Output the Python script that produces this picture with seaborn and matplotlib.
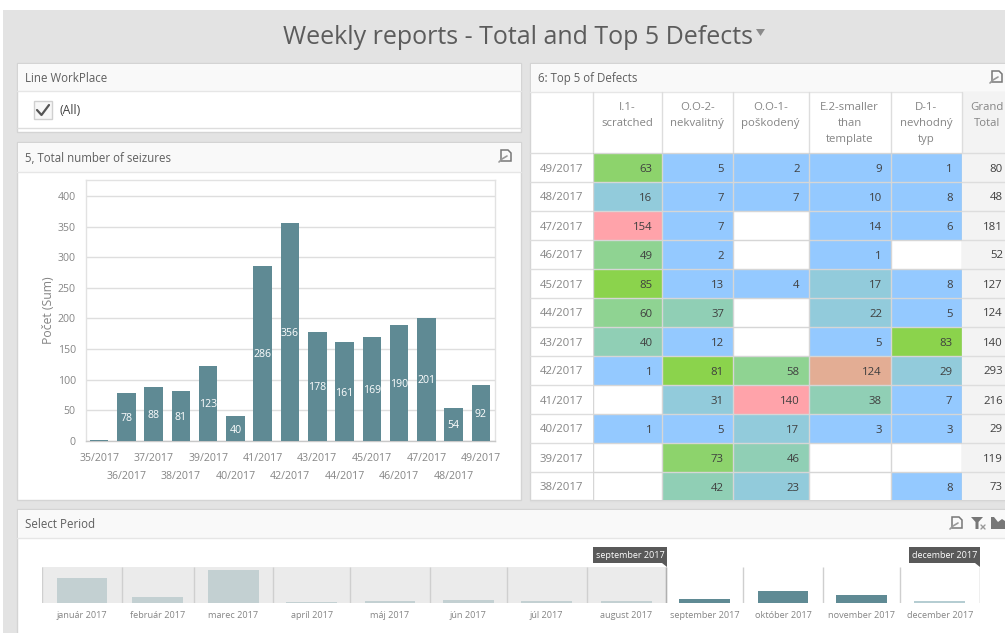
import numpy as np
import pandas as pd
import seaborn as sns
import matplotlib
matplotlib.use("Agg")
import matplotlib.pyplot as plt
from matplotlib.colors import ListedColormap, BoundaryNorm
from matplotlib.patches import Rectangle, Polygon

# ---------- data ----------
weeks = ["35/2017", "36/2017", "37/2017", "38/2017", "39/2017", "40/2017", "41/2017", "42/2017",
         "43/2017", "44/2017", "45/2017", "46/2017", "47/2017", "48/2017", "49/2017"]
seizures = [2, 78, 88, 81, 123, 40, 286, 356, 178, 161, 169, 190, 201, 54, 92]
seizure_labels = ["", "78", "88", "81", "123", "40", "286", "356", "178", "161", "169", "190", "201", "54", "92"]

table_weeks = ["49/2017", "48/2017", "47/2017", "46/2017", "45/2017", "44/2017",
               "43/2017", "42/2017", "41/2017", "40/2017", "39/2017", "38/2017"]
nan = np.nan
scratched = [63, 16, 154, 49, 85, 60, 40, 1, nan, 1, nan, nan]
nekvalitny = [5, 7, 7, 2, 13, 37, 12, 81, 31, 5, 73, 42]
poskodeny = [2, 7, nan, nan, 4, nan, nan, 58, 140, 17, 46, 23]
smaller = [9, 10, 14, 1, 17, 22, 5, 124, 38, 3, nan, nan]
nevhodny = [1, 8, 6, nan, 8, 5, 83, 29, 7, 3, nan, 8]
grand_total = [80, 48, 181, 52, 127, 124, 140, 293, 216, 29, 119, 73]
defect_headers = ["I.1-\nscratched", "O.O-2-\nnekvalitný", "O.O-1-\npoškodený",
                  "E.2-smaller\nthan\ntemplate", "D-1-\nnevhodný\ntyp"]

months = ["január 2017", "február 2017", "marec 2017", "apríl 2017", "máj 2017", "jún 2017",
          "júl 2017", "august 2017", "september 2017", "október 2017", "november 2017", "december 2017"]
month_days = [31, 28, 31, 30, 31, 30, 31, 31, 30, 31, 30, 31]
month_totals = [2000, 480, 2640, 100, 160, 260, 190, 180, 350, 980, 640, 130]
month_selected = ["no"] * 8 + ["yes"] * 3 + ["thin"]

# ---------- style ----------
W, H = 1005, 633
sns.set_theme(style="white")
plt.rcParams["font.family"] = ["Open Sans", "DejaVu Sans"]
GREY = "#858585"
HEAD = "#5f5f5f"
TEAL = "#5f8a94"
NUM = "#3f3f3f"

fig = plt.figure(figsize=(W / 100, H / 100), dpi=100, facecolor="white")


def axes_px(x0, y0, x1, y1, **kw):
    return fig.add_axes([x0 / W, 1 - y1 / H, (x1 - x0) / W, (y1 - y0) / H], **kw)


bg = axes_px(0, 0, W, H)
bg.set_xlim(0, W)
bg.set_ylim(H, 0)
bg.axis("off")


def rect(x0, y0, x1, y1, fc, ec="none", lw=0, z=1):
    bg.add_patch(Rectangle((x0, y0), x1 - x0, y1 - y0, fc=fc, ec=ec, lw=lw, zorder=z))


def panel(x0, y0, x1, y1, hdr, title):
    rect(x0, y0, x1, y1, "white", "#d4d4d4", 1)
    rect(x0 + 0.5, y0 + 0.5, x1, hdr, "#f9f9f9", z=2)
    bg.plot([x0, x1], [hdr, hdr], color="#e6e6e6", lw=1, zorder=3)
    bg.text(x0 + 8, (y0 + hdr) / 2 + 1, title, fontsize=8.3, color=HEAD, va="center", zorder=4)


def export_icon(x, y):
    bg.add_patch(Polygon([[x + 1, y + 11], [x + 1, y], [x + 8, y], [x + 11, y + 3], [x + 11, y + 11]],
                         fc="none", ec="#777777", lw=1.1, zorder=5))
    bg.plot([x - 1, x + 2, x + 7], [y + 12, y + 9, y + 6], color="#999999", lw=1.2, zorder=5)


rect(3, 10, W, H, "#e3e3e3", z=0)
bg.text(518, 37.5, "Weekly reports - Total and Top 5 Defects", fontsize=18, color="#5c5c5c",
        ha="center", va="center", zorder=4)
bg.add_patch(Polygon([[756, 29], [765, 29], [760.5, 36]], fc="#8a8a8a", ec="none", zorder=4))

panel(17, 63, 521, 132, 91, "Line WorkPlace")
panel(17, 142, 521, 500, 172, "5, Total number of seizures")
panel(530, 63, W + 5, 500, 92, "6: Top 5 of Defects")
panel(17, 509, W + 5, H + 5, 538, "Select Period")
bg.plot([17, 521], [128, 128], color="#dddddd", lw=1, zorder=3)
export_icon(500, 150)
export_icon(991, 71)
export_icon(951, 517)
bg.add_patch(Polygon([[971, 517], [983, 517], [978.5, 522], [978.5, 529], [975.5, 529], [975.5, 522]],
                     fc="#777777", ec="none", zorder=5))
bg.plot([981, 985], [525, 529], color="#999999", lw=1, zorder=5)
bg.plot([985, 981], [525, 529], color="#999999", lw=1, zorder=5)
bg.add_patch(Polygon([[991, 529], [991, 517], [994, 517], [998, 522], [1002, 519], [1005, 521], [1005, 529]],
                     fc="#777777", ec="none", zorder=5))

# checkbox
rect(34, 101, 52, 119, "#f7f7f7", "#d0d0d0", 1, z=4)
bg.plot([37, 41.5, 49], [110, 115, 105], color="#555555", lw=1.6, zorder=5)
bg.text(60, 110, "(All)", fontsize=8.8, color="#444444", va="center", zorder=5)

# ---------- bar chart ----------
ax = axes_px(85.5, 180, 494.5, 441)
ax.patch.set_alpha(0)
sns.barplot(x=weeks, y=seizures, color=TEAL, saturation=1, width=0.68, ax=ax, linewidth=0, zorder=3)
ax.set_ylim(0, 426)
ax.set_yticks(range(0, 401, 50))
ax.grid(axis="y", color="#dedede", lw=1)
ax.set_axisbelow(True)
for s in ax.spines.values():
    s.set_color("#e2e2e2")
    s.set_linewidth(1)
ax.spines["bottom"].set_color("#c8c8c8")
for t in ax.bar_label(ax.containers[0], labels=seizure_labels, label_type="center", color="white", fontsize=7.6):
    t.set_verticalalignment("center_baseline")
ax.set_xticks(range(0, 15, 2), weeks[0::2], fontsize=7.6, color=GREY)
ax.set_xticks(range(1, 15, 2), weeks[1::2], fontsize=7.6, color=GREY, minor=True)
ax.tick_params(axis="x", which="both", length=0)
ax.tick_params(axis="x", which="major", pad=8.5)
ax.tick_params(axis="x", which="minor", pad=21.5)
ax.tick_params(axis="y", length=0, pad=7, labelsize=7.6, labelcolor=GREY)
ax.set_xlabel("")
ax.set_ylabel("Počet (Sum)", fontsize=8.8, color=GREY, labelpad=2)

# ---------- heat table ----------
col_edges = [592.5, 661.5, 733, 808.5, 891, 961.5]
top, bottom = 153.0, 500.0
row_h = 29.0
cmap = ListedColormap(["#94c9ff", "#92cbdb", "#90cfb5", "#8fd392", "#8dd36c", "#8bd34c", "#e3ad94", "#ffa3aa"])
norm = BoundaryNorm([1, 15.5, 33, 48, 62, 78, 110, 135, 155], cmap.N)
columns = [scratched, nekvalitny, poskodeny, smaller, nevhodny]
for i, (col, head) in enumerate(zip(columns, defect_headers)):
    x0, x1 = col_edges[i], col_edges[i + 1]
    cax = axes_px(x0, top, x1, bottom)
    frame = pd.DataFrame({head: col}, index=table_weeks)
    sns.heatmap(frame, ax=cax, cmap=cmap, norm=norm, cbar=False, annot=True, fmt=".0f",
                annot_kws={"fontsize": 8.2}, xticklabels=False, yticklabels=False, linewidths=0)
    cax.set_ylim((bottom - top) / row_h, 0)
    cax.set_ylabel("")
    for t in cax.texts:
        t.set_ha("right")
        t.set_va("center_baseline")
        t.set_x(1 - 9 / (x1 - x0))
        t.set_color(NUM)
    cax.hlines(range(len(table_weeks) + 1), 0, 1, color="#d6d6d6", lw=1)
    cax.vlines([0, 1], 0, len(table_weeks), color="#d6d6d6", lw=1)
    bg.text((x0 + x1) / 2, 101.5, head, ha="center", va="top", fontsize=8.2, color=GREY,
            linespacing=1.66, zorder=5)
    bg.plot([x0, x0], [92, top], color="#dddddd", lw=1, zorder=5)

rect(961.5, 92, W + 5, bottom, "#f3f3f3", z=3)
bg.plot([530, W], [top, top], color="#dddddd", lw=1, zorder=5)
bg.plot([961.5, 961.5], [92, top], color="#dddddd", lw=1, zorder=5)
bg.text(987, 101.5, "Grand\nTotal", ha="center", va="top", fontsize=8.2, color=GREY, linespacing=1.66, zorder=5)
for r, (wk, total) in enumerate(zip(table_weeks, grand_total)):
    y = top + (r + 0.5) * row_h
    bg.text(583, y, wk, ha="right", va="center_baseline", fontsize=8.2, color=GREY, zorder=5)
    bg.text(1003, y, str(total), ha="right", va="center_baseline", fontsize=8.2, color=NUM, zorder=5)
    bg.plot([530, W], [top + (r + 1) * row_h] * 2, color="#dddddd", lw=1, zorder=4)

# ---------- period slicer ----------
edges = np.concatenate([[0], np.cumsum(month_days)])
centers = (edges[:-1] + edges[1:]) / 2
sax = axes_px(42, 567, 979.5, 603)
sax.patch.set_alpha(0)
sax.axvspan(0, edges[8], color="#ebebeb", lw=0, zorder=0)
sns.barplot(x=centers, y=month_totals, hue=month_selected,
            palette={"no": "#c3d0d2", "yes": TEAL, "thin": "#b5cdd2"},
            native_scale=True, dodge=False, width=0.667, saturation=1, legend=False, ax=sax,
            zorder=3, linewidth=0)
sax.set_xlim(0, 365)
sax.set_ylim(0, 2880)
sax.set_yticks([])
sax.set_ylabel("")
sax.set_xlabel("")
sax.set_xticks(centers)
sax.set_xticklabels(months, fontsize=6.6, color=GREY)
sax.tick_params(axis="x", length=0, pad=5.5)
for s in sax.spines.values():
    s.set_visible(False)
sax.vlines(edges[:-1], 0, 2880, color="#cfcfcf", lw=1, zorder=2)
sax.vlines([edges[8], edges[12]], 0, 2880, color="#b0b0b0", lw=1, zorder=4)

for x0, x1, label in [(593, 667, "september 2017"), (908.5, 980, "december 2017")]:
    rect(x0, 547, x1, 563, "#595959", z=5)
    bg.add_patch(Polygon([[x1 - 5, 563], [x1, 563], [x1, 567]], fc="#595959", ec="none", zorder=5))
    bg.text((x0 + x1) / 2, 555, label, ha="center", va="center_baseline", fontsize=6.5, color="white", zorder=6)

fig.savefig("out.png", dpi=100)
